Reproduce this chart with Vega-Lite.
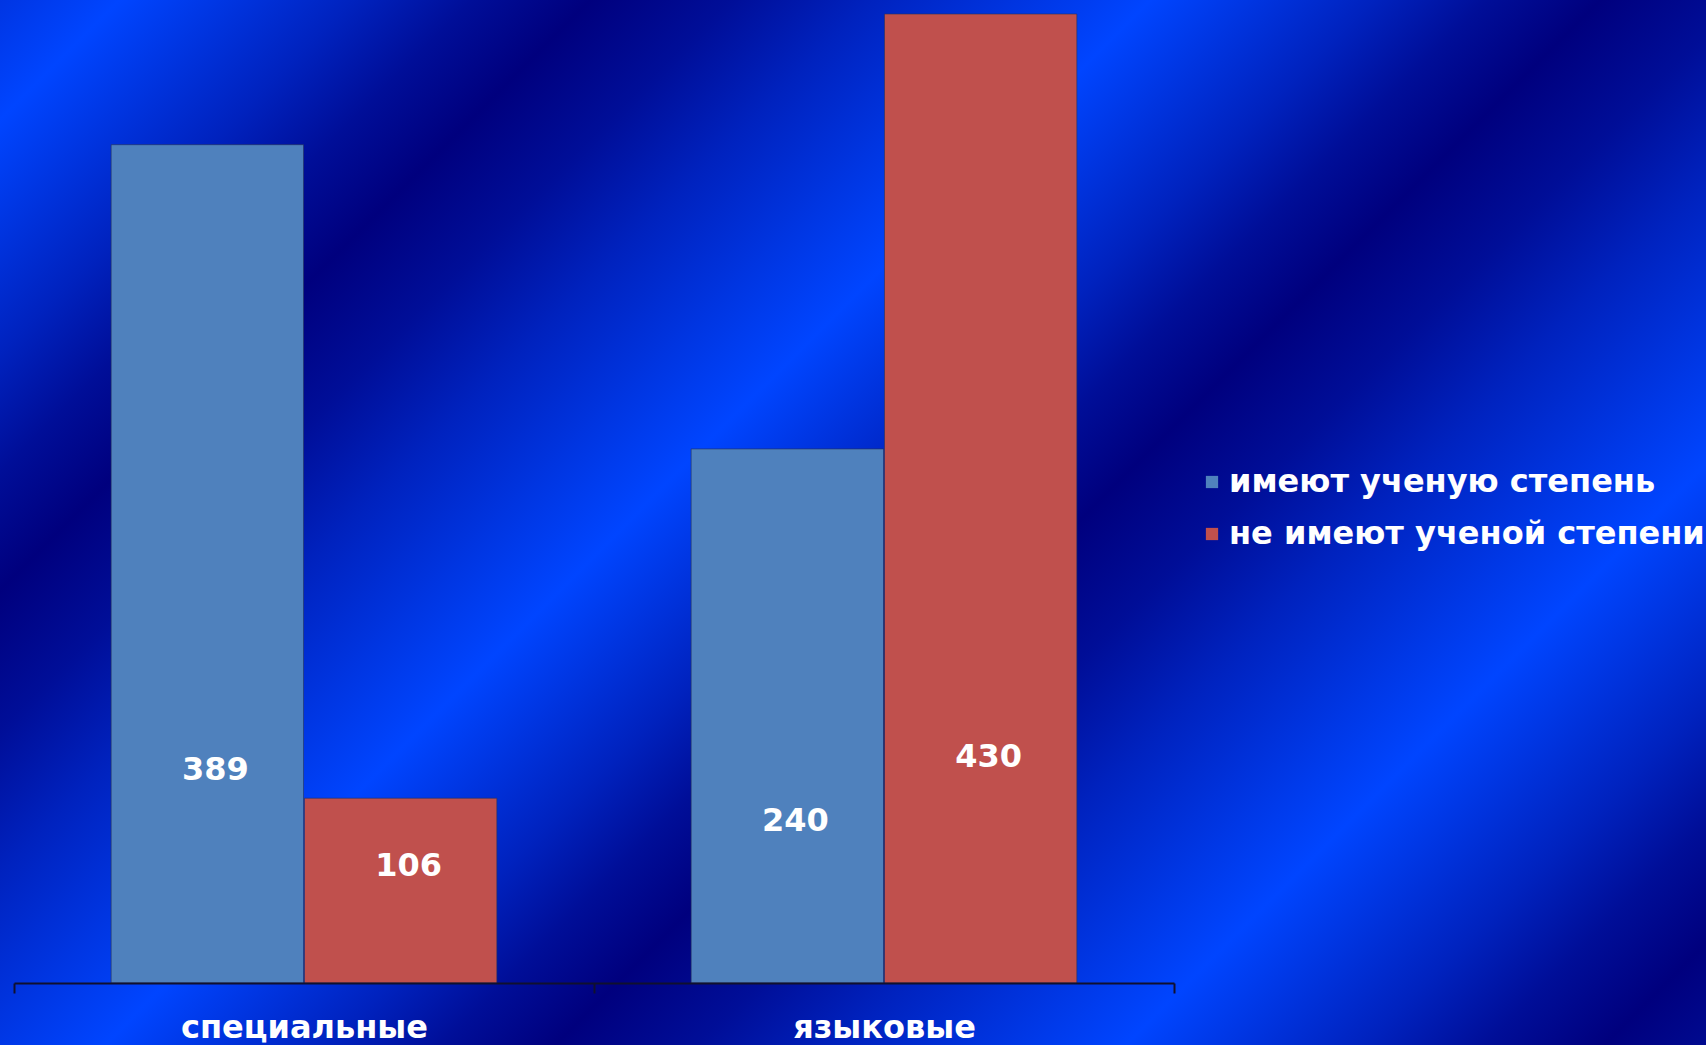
{
  "$schema": "https://vega.github.io/schema/vega-lite/v6.json",
  "width": 1706,
  "height": 1045,
  "padding": 0,
  "autosize": {"type": "none"},
  "background": "#0022bf",
  "config": {"view": {"stroke": null}, "font": "DejaVu Sans"},
  "layer": [
    {
      "data": {"values": [{"bg": 1}]},
      "mark": {
        "type": "rect",
        "fill": {
          "gradient": "linear",
          "x1": 0, "y1": 0, "x2": 1.1726, "y2": 0.7183,
          "stops": [
            {"offset": 0, "color": "#0035e3"},
            {"offset": 0.0436, "color": "#0045ff"},
            {"offset": 0.1291, "color": "#0022be"},
            {"offset": 0.1718, "color": "#000e98"},
            {"offset": 0.2145, "color": "#00007e"},
            {"offset": 0.2654, "color": "#000e98"},
            {"offset": 0.3163, "color": "#0022be"},
            {"offset": 0.418, "color": "#0045ff"},
            {"offset": 0.4998, "color": "#0022be"},
            {"offset": 0.5407, "color": "#000e98"},
            {"offset": 0.5816, "color": "#00007e"},
            {"offset": 0.6335, "color": "#000e98"},
            {"offset": 0.6853, "color": "#0022be"},
            {"offset": 0.789, "color": "#0045ff"},
            {"offset": 0.876, "color": "#0022be"},
            {"offset": 0.9195, "color": "#000e98"},
            {"offset": 0.963, "color": "#00007e"},
            {"offset": 1, "color": "#000a90"}
          ]
        }
      },
      "encoding": {
        "x": {"value": 0},
        "x2": {"value": "width"},
        "y": {"value": 0},
        "y2": {"value": "height"}
      }
    },
    {
      "data": {"values": [
        {"category": "специальные", "group": "имеют ученую степень", "value": 372, "label": 389},
        {"category": "специальные", "group": "не имеют ученой степени", "value": 82, "label": 106},
        {"category": "языковые", "group": "имеют ученую степень", "value": 237, "label": 240},
        {"category": "языковые", "group": "не имеют ученой степени", "value": 430, "label": 430}
      ]},
      "resolve": {"scale": {"y": "independent"}},
      "layer": [
        {
          "mark": {"type": "bar", "stroke": "#24325a", "strokeWidth": 1, "strokeOpacity": 0.6},
          "encoding": {
            "x": {
              "field": "category", "type": "nominal", "sort": ["специальные", "языковые"],
              "scale": {"range": [14, 1174], "paddingInner": 0, "paddingOuter": 0},
              "axis": {
                "title": null, "labelAngle": 0, "offset": -62, "grid": false, "zindex": 2,
                "domainColor": "#10102e", "domainWidth": 2,
                "tickColor": "#10102e", "tickWidth": 2, "tickSize": 10, "tickBand": "extent",
                "labelFont": "DejaVu Sans", "labelFontWeight": "bold", "labelFontSize": 32,
                "labelColor": "white", "labelBaseline": "alphabetic", "labelPadding": 44,
                "labelLimit": 0
              }
            },
            "xOffset": {
              "field": "group", "type": "nominal",
              "sort": ["имеют ученую степень", "не имеют ученой степени"],
              "scale": {"paddingInner": 0.005, "paddingOuter": 0.5025}
            },
            "y": {
              "field": "value", "type": "quantitative",
              "scale": {"domain": [0, 430], "range": [983, 14], "nice": false},
              "axis": null
            },
            "color": {
              "field": "group", "type": "nominal",
              "scale": {"domain": ["имеют ученую степень", "не имеют ученой степени"], "range": ["#4f81bd", "#c0504d"]},
              "legend": {
                "orient": "none", "legendX": 1196, "legendY": 466, "title": null,
                "symbolType": "square", "symbolSize": 150, "symbolStrokeWidth": 0,
                "labelFont": "DejaVu Sans", "labelFontWeight": "bold", "labelFontSize": 32,
                "labelColor": "white", "labelOffset": 1, "rowPadding": 20,
                "labelLimit": 600, "padding": 0
              }
            }
          }
        },
        {
          "mark": {"type": "text", "font": "DejaVu Sans", "fontWeight": "bold", "fontSize": 32, "color": "white", "dx": 8, "baseline": "middle"},
          "encoding": {
            "x": {"field": "category", "type": "nominal", "sort": ["специальные", "языковые"]},
            "xOffset": {"field": "group", "type": "nominal", "sort": ["имеют ученую степень", "не имеют ученой степени"]},
            "y": {
              "field": "label", "type": "quantitative",
              "scale": {"domain": [0, 430], "range": [902, 756.5], "nice": false, "zero": false},
              "axis": null
            },
            "text": {"field": "label", "type": "quantitative"}
          }
        }
      ]
    }
  ]
}
